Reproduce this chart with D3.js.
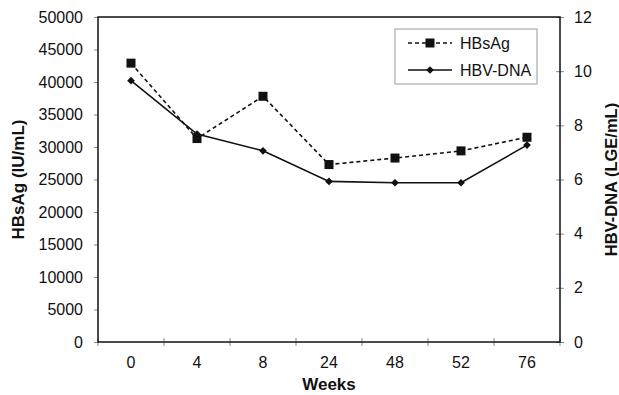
<!DOCTYPE html>
<html>
<head>
<meta charset="utf-8">
<script src="https://cdn.jsdelivr.net/npm/d3@7"></script>
<style>
  body { margin: 0; background: #fff; }
  text { font-family: "Liberation Sans", Arial, sans-serif; fill: #111; }
</style>
</head>
<body>
<div id="chart"></div>
<script>
// data
const weeks = ["0", "4", "8", "24", "48", "52", "76"];
const hbsag = [42900, 31300, 37800, 27300, 28300, 29400, 31500];
const hbvDna = [9.65, 7.68, 7.06, 5.93, 5.88, 5.88, 7.27];
const leftTicks = [0, 5000, 10000, 15000, 20000, 25000, 30000, 35000, 40000, 45000, 50000];
const rightTicks = [0, 2, 4, 6, 8, 10, 12];

const width = 619, height = 395;
const margin = { top: 17, right: 59, bottom: 53, left: 98 };
const iw = width - margin.left - margin.right;
const ih = height - margin.top - margin.bottom;

const svg = d3.select("#chart").append("svg")
  .attr("width", width)
  .attr("height", height);

const g = svg.append("g")
  .attr("transform", "translate(" + margin.left + "," + margin.top + ")");

const x = d3.scaleBand().domain(weeks).range([0, iw]);
const yL = d3.scaleLinear().domain([0, 50000]).range([ih, 0]);
const yR = d3.scaleLinear().domain([0, 12]).range([ih, 0]);

// left axis
const axL = g.append("g")
  .call(d3.axisLeft(yL).tickValues(leftTicks).tickSize(4).tickPadding(11).tickFormat(d3.format("d")));
axL.select(".domain").remove();
axL.selectAll("line").attr("stroke", "#888");
axL.selectAll("text").style("font-size", "16px");

// right axis
const axR = g.append("g")
  .attr("transform", "translate(" + iw + ",0)")
  .call(d3.axisRight(yR).tickValues(rightTicks).tickSize(4).tickPadding(10));
axR.select(".domain").remove();
axR.selectAll("line").attr("stroke", "#888").attr("x1", -4);
axR.selectAll("text").style("font-size", "16px");

// bottom axis, ticks between categories
const axB = g.append("g")
  .attr("transform", "translate(0," + ih + ")")
  .call(d3.axisBottom(x).tickSize(0).tickPadding(15));
axB.select(".domain").remove();
axB.selectAll("text").style("font-size", "16px");
const bounds = weeks.map(w => x(w)).concat([iw]);
axB.selectAll("line.sep")
  .data(bounds)
  .enter().append("line")
  .attr("class", "sep")
  .attr("x1", d => d).attr("x2", d => d)
  .attr("y1", -4).attr("y2", 4)
  .attr("stroke", "#888");

// plot frame
g.append("rect")
  .attr("width", iw).attr("height", ih)
  .attr("fill", "none")
  .attr("stroke", "#111")
  .attr("stroke-width", 1.5);

const cx = d => x(d) + x.bandwidth() / 2;

// HBsAg dashed with squares
g.append("path")
  .datum(hbsag)
  .attr("fill", "none")
  .attr("stroke", "#111")
  .attr("stroke-width", 1.6)
  .attr("stroke-dasharray", "4,3")
  .attr("d", d3.line().x((d, i) => cx(weeks[i])).y(d => yL(d)));

g.selectAll("rect.sq")
  .data(hbsag)
  .enter().append("rect")
  .attr("class", "sq")
  .attr("x", (d, i) => cx(weeks[i]) - 4.5)
  .attr("y", d => yL(d) - 4.5)
  .attr("width", 9).attr("height", 9)
  .attr("fill", "#111");

// HBV-DNA solid with diamonds (rotated squares)
g.append("path")
  .datum(hbvDna)
  .attr("fill", "none")
  .attr("stroke", "#111")
  .attr("stroke-width", 1.6)
  .attr("d", d3.line().x((d, i) => cx(weeks[i])).y(d => yR(d)));

const diamond = d3.symbol().type(d3.symbolSquare).size(30);
g.selectAll("path.dm")
  .data(hbvDna)
  .enter().append("path")
  .attr("class", "dm")
  .attr("d", diamond)
  .attr("transform", (d, i) => "translate(" + cx(weeks[i]) + "," + yR(d) + ") rotate(45)")
  .attr("fill", "#111");

// axis titles
svg.append("text")
  .attr("x", margin.left + iw / 2)
  .attr("y", 390)
  .attr("text-anchor", "middle")
  .style("font-size", "17px")
  .style("font-weight", "bold")
  .text("Weeks");

svg.append("text")
  .attr("transform", "translate(24," + (margin.top + ih / 2) + ") rotate(-90)")
  .attr("text-anchor", "middle")
  .style("font-size", "17px")
  .style("font-weight", "bold")
  .text("HBsAg (IU/mL)");

svg.append("text")
  .attr("transform", "translate(617," + (margin.top + ih / 2) + ") rotate(-90)")
  .attr("text-anchor", "middle")
  .style("font-size", "16.5px")
  .style("font-weight", "bold")
  .text("HBV-DNA (LGE/mL)");

// legend
const lg = svg.append("g").attr("transform", "translate(395,29)");
lg.append("rect")
  .attr("width", 142).attr("height", 55)
  .attr("fill", "#fff")
  .attr("stroke", "#999");

lg.append("line")
  .attr("x1", 13).attr("x2", 57).attr("y1", 14).attr("y2", 14)
  .attr("stroke", "#111").attr("stroke-width", 1.6).attr("stroke-dasharray", "4,3");
lg.append("rect")
  .attr("x", 35 - 4.5).attr("y", 14 - 4.5).attr("width", 9).attr("height", 9)
  .attr("fill", "#111");
lg.append("text").attr("x", 65).attr("y", 20).style("font-size", "16px").text("HBsAg");

lg.append("line")
  .attr("x1", 13).attr("x2", 57).attr("y1", 41).attr("y2", 41)
  .attr("stroke", "#111").attr("stroke-width", 1.6);
lg.append("path")
  .attr("d", diamond)
  .attr("transform", "translate(35,41) rotate(45)")
  .attr("fill", "#111");
lg.append("text").attr("x", 65).attr("y", 47).style("font-size", "16px").text("HBV-DNA");
</script>
</body>
</html>
